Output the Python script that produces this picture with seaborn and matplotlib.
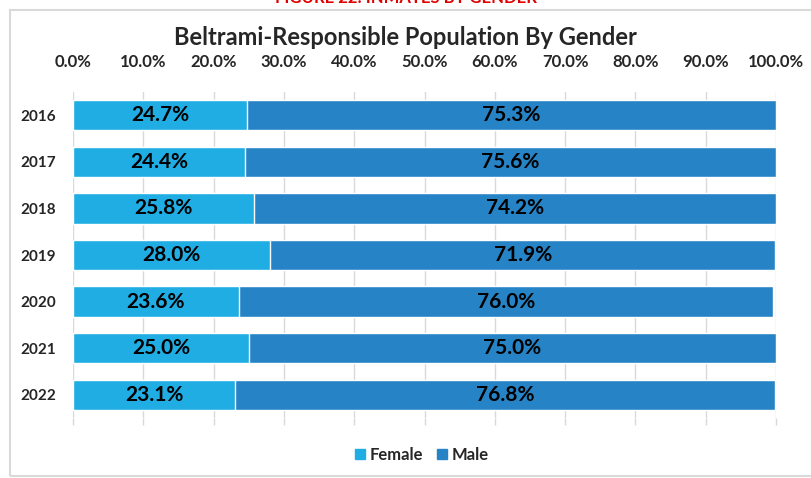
import numpy as np
import pandas as pd
import matplotlib
matplotlib.use('Agg')
from matplotlib import pyplot as plt
from matplotlib.patches import Rectangle, Patch
import seaborn as sns

years = ['2016', '2017', '2018', '2019', '2020', '2021', '2022']
female = [24.7, 24.4, 25.8, 28.0, 23.6, 25.0, 23.1]
male = [75.3, 75.6, 74.2, 71.9, 76.0, 75.0, 76.8]
ticks = [0, 10, 20, 30, 40, 50, 60, 70, 80, 90, 100]

female_color = '#1FADE4'
male_color = '#2683C6'

sns.set_style('white')
plt.rcParams['font.family'] = ['Lato', 'DejaVu Sans']

df = pd.DataFrame({'year': years, 'Female': female, 'Male': male})
df['total'] = df['Female'] + df['Male']

fig = plt.figure(figsize=(8.11, 4.78), dpi=100)
ax = fig.add_axes([0.090, 0.1255, 0.867, 0.682])

# male drawn as the full stack, female on top of it
sns.barplot(data=df, y='year', x='total', orient='h', color=male_color,
            width=0.65, saturation=1, ax=ax)
sns.barplot(data=df, y='year', x='Female', orient='h', color=female_color,
            width=0.65, saturation=1, ax=ax)

for i, (f, m) in enumerate(zip(female, male)):
    ax.text(f / 2, i, f'{f:.1f}%', ha='center', va='center',
            fontsize=15, fontweight='bold', color='black')
    ax.text(f + m / 2, i, f'{m:.1f}%', ha='center', va='center',
            fontsize=15, fontweight='bold', color='black')

ax.set_xlim(0, 100)
ax.set_ylim(6.5, -0.5)
ax.set_xticks(ticks)
ax.set_xticklabels([f'{t:.1f}%' for t in ticks])
ax.xaxis.set_ticks_position('bottom')
ax.xaxis.set_label_position('top')
ax.tick_params(axis='x', which='both', labeltop=True, labelbottom=False,
               bottom=True, top=False, length=5, color='#D9D9D9', width=1,
               labelsize=12, pad=11)
ax.tick_params(axis='y', length=0, labelsize=11, pad=12)
for lab in ax.get_xticklabels() + ax.get_yticklabels():
    lab.set_fontweight('bold')
ax.set_xlabel('')
ax.set_ylabel('')
ax.grid(axis='x', color='#D9D9D9', linewidth=1)
ax.set_axisbelow(True)
for s in ax.spines.values():
    s.set_visible(False)

fig.text(0.5, 0.922, 'Beltrami-Responsible Population By Gender',
         ha='center', va='center', fontsize=17, fontweight='bold')
# caption of the page above, cut off by the crop in the reference
fig.text(0.5, 1.004, 'FIGURE 22: INMATES BY GENDER', ha='center',
         va='center', fontsize=12, fontweight='bold', color='#E00000')

handles = [Patch(color=female_color, label='Female'),
           Patch(color=male_color, label='Male')]
leg = fig.legend(handles=handles, loc='center', bbox_to_anchor=(0.52, 0.048),
                 ncol=2, frameon=False, handlelength=0.6, handleheight=0.6,
                 handletextpad=0.3, columnspacing=0.8,
                 prop={'weight': 'bold', 'size': 12})

fig.patches.append(Rectangle((10 / 811, 0.005), 1.2, 1 - 10 / 478 - 0.005,
                             transform=fig.transFigure, fill=False,
                             edgecolor='#D9D9D9', linewidth=1.5))

fig.savefig('out.png', dpi=100)
